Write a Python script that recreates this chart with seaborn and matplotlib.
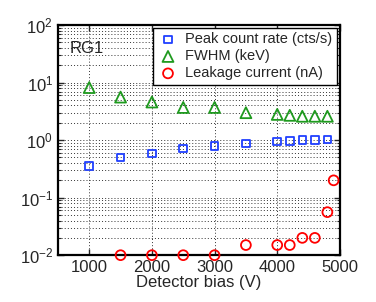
import matplotlib
matplotlib.use("Agg")
import matplotlib.pyplot as plt
import pandas as pd
import seaborn as sns
from matplotlib.ticker import LogLocator, NullFormatter

# --- data ---
bias_rate = [1000, 1500, 2000, 2500, 3000, 3500, 4000, 4200, 4400, 4600, 4800]
peak_rate = [0.355, 0.50, 0.59, 0.72, 0.80, 0.88, 0.94, 0.96, 1.0, 1.0, 1.03]

bias_fwhm = [1000, 1500, 2000, 2500, 3000, 3500, 4000, 4200, 4400, 4600, 4800]
fwhm = [8.2, 5.6, 4.6, 3.7, 3.7, 3.0, 2.8, 2.7, 2.6, 2.6, 2.6]

bias_leak = [1500, 2000, 2500, 3000, 3500, 4000, 4200, 4400, 4600, 4800, 4900]
leakage = [0.01, 0.01, 0.01, 0.01, 0.015, 0.015, 0.015, 0.020, 0.020, 0.056, 0.2]

xticks = [1000, 2000, 3000, 4000, 5000]

sns.set_style("ticks")
plt.rcParams["font.family"] = ["Liberation Sans", "DejaVu Sans"]

fig = plt.figure(figsize=(3.76, 3.02), dpi=100)
ax = fig.add_axes([0.154, 0.155, 0.750, 0.762])

series = [
    (bias_rate, peak_rate, "s", "#2040ff", 30, "Peak count rate (cts/s)"),
    (bias_fwhm, fwhm, "^", "#1f9a1f", 62, "FWHM (keV)"),
    (bias_leak, leakage, "o", "#ff0000", 50, "Leakage current (nA)"),
]
for xs, ys, mk, col, size, lab in series:
    df = pd.DataFrame({"x": xs, "y": ys})
    sns.scatterplot(data=df, x="x", y="y", marker=mk, s=size, facecolors="none",
                    edgecolor=col, linewidth=1.3, label=lab, ax=ax, clip_on=False, zorder=3)

ax.set_yscale("log")
ax.set_xlim(500, 5000)
ax.set_ylim(1e-2, 1e2)
ax.set_xticks(xticks)
ax.yaxis.set_major_locator(LogLocator(base=10, numticks=10))
ax.yaxis.set_minor_locator(LogLocator(base=10, subs=range(2, 10), numticks=10))
ax.yaxis.set_minor_formatter(NullFormatter())

grid_kw = dict(linestyle=(0, (1, 2.2)), color="#333333", linewidth=0.7)
ax.grid(True, which="major", axis="both", **grid_kw)
ax.grid(True, which="minor", axis="y", **grid_kw)
ax.set_axisbelow(True)

ax.tick_params(which="both", direction="in", top=True, right=True, labelsize=12)
ax.tick_params(which="major", length=4, width=1)
ax.tick_params(which="minor", length=2, width=0.8)
for sp in ax.spines.values():
    sp.set_linewidth(1.6)
    sp.set_color("black")

ax.set_xlabel("Detector bias (V)", fontsize=12, labelpad=0)
ax.set_ylabel("")
ax.text(0.04, 0.93, "RG1", transform=ax.transAxes, fontsize=12, va="top", ha="left")

leg = ax.legend(loc="upper right", fontsize=10.5, frameon=True, fancybox=False,
                borderaxespad=0.2, handletextpad=0.5, borderpad=0.3, labelspacing=0.2,
                handlelength=1.4)
leg.get_frame().set_edgecolor("black")
leg.get_frame().set_linewidth(1.0)
leg.get_frame().set_alpha(1)

fig.savefig("out.png", dpi=100)
